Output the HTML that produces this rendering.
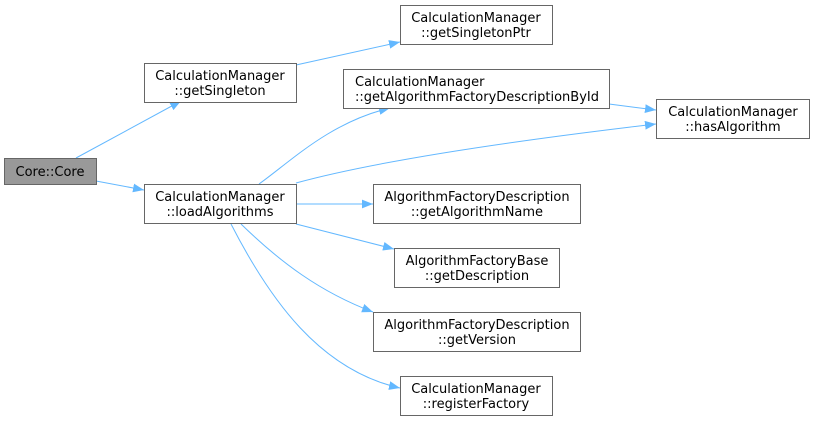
<!DOCTYPE html>
<html><head><meta charset="utf-8"><style>
html,body{margin:0;padding:0;background:#fff;}
svg{display:block;}
text{font-family:"DejaVu Sans","Liberation Sans",sans-serif;font-size:13px;fill:#000;}
</style></head><body>
<svg width="815" height="421" viewBox="0 0 815 421" xmlns="http://www.w3.org/2000/svg">
<defs>
<marker id="a" viewBox="0 0 10 8" refX="10" refY="4" markerWidth="11" markerHeight="9" markerUnits="userSpaceOnUse" orient="auto">
<path d="M0,0 L10,4 L0,8 z" fill="#63b8ff"/>
</marker>
</defs>
<g fill="none" stroke="#63b8ff" stroke-width="1" marker-end="url(#a)">
<path d="M76,158 L181,101"/>
<path d="M96,181 L144,190"/>
<path d="M296,65 L400,42"/>
<path d="M259,184 C290,162 330,122 390,108"/>
<path d="M296,183 C380,160 520,140 656,124"/>
<path d="M609,104 L656,110"/>
<path d="M296,204 L373,204"/>
<path d="M296,224 L394,249"/>
<path d="M241,224 C280,262 320,292 373,312"/>
<path d="M231,224 C270,300 320,370 400,388"/>
</g>
<g stroke="#666" stroke-width="1">
<rect x="4.5" y="158.5" width="92" height="26" fill="#999"/>
<rect x="144.5" y="63.5" width="152" height="39" fill="#fff"/>
<rect x="144.5" y="184.5" width="152" height="39" fill="#fff"/>
<rect x="400.5" y="5.5" width="152" height="39" fill="#fff"/>
<rect x="343.5" y="69.5" width="266" height="39" fill="#fff"/>
<rect x="656.5" y="99.5" width="153" height="39" fill="#fff"/>
<rect x="373.5" y="184.5" width="207" height="39" fill="#fff"/>
<rect x="394.5" y="248.5" width="165" height="39" fill="#fff"/>
<rect x="373.5" y="312.5" width="207" height="39" fill="#fff"/>
<rect x="400.5" y="376.5" width="152" height="39" fill="#fff"/>
</g>
<g text-anchor="middle">
<text x="50" y="176">Core::Core</text>
<text x="220" y="80">CalculationManager</text><text x="220" y="95">::getSingleton</text>
<text x="220" y="201">CalculationManager</text><text x="220" y="216">::loadAlgorithms</text>
<text x="476" y="22">CalculationManager</text><text x="476" y="37">::getSingletonPtr</text>
<text x="733" y="116">CalculationManager</text><text x="733" y="131">::hasAlgorithm</text>
<text x="477" y="201">AlgorithmFactoryDescription</text><text x="477" y="216">::getAlgorithmName</text>
<text x="477" y="265">AlgorithmFactoryBase</text><text x="477" y="280">::getDescription</text>
<text x="477" y="329">AlgorithmFactoryDescription</text><text x="477" y="344">::getVersion</text>
<text x="476" y="393">CalculationManager</text><text x="476" y="408">::registerFactory</text>
</g>
<text x="355" y="86">CalculationManager</text><text x="355" y="101">::getAlgorithmFactoryDescriptionById</text>
</svg>
</body></html>
